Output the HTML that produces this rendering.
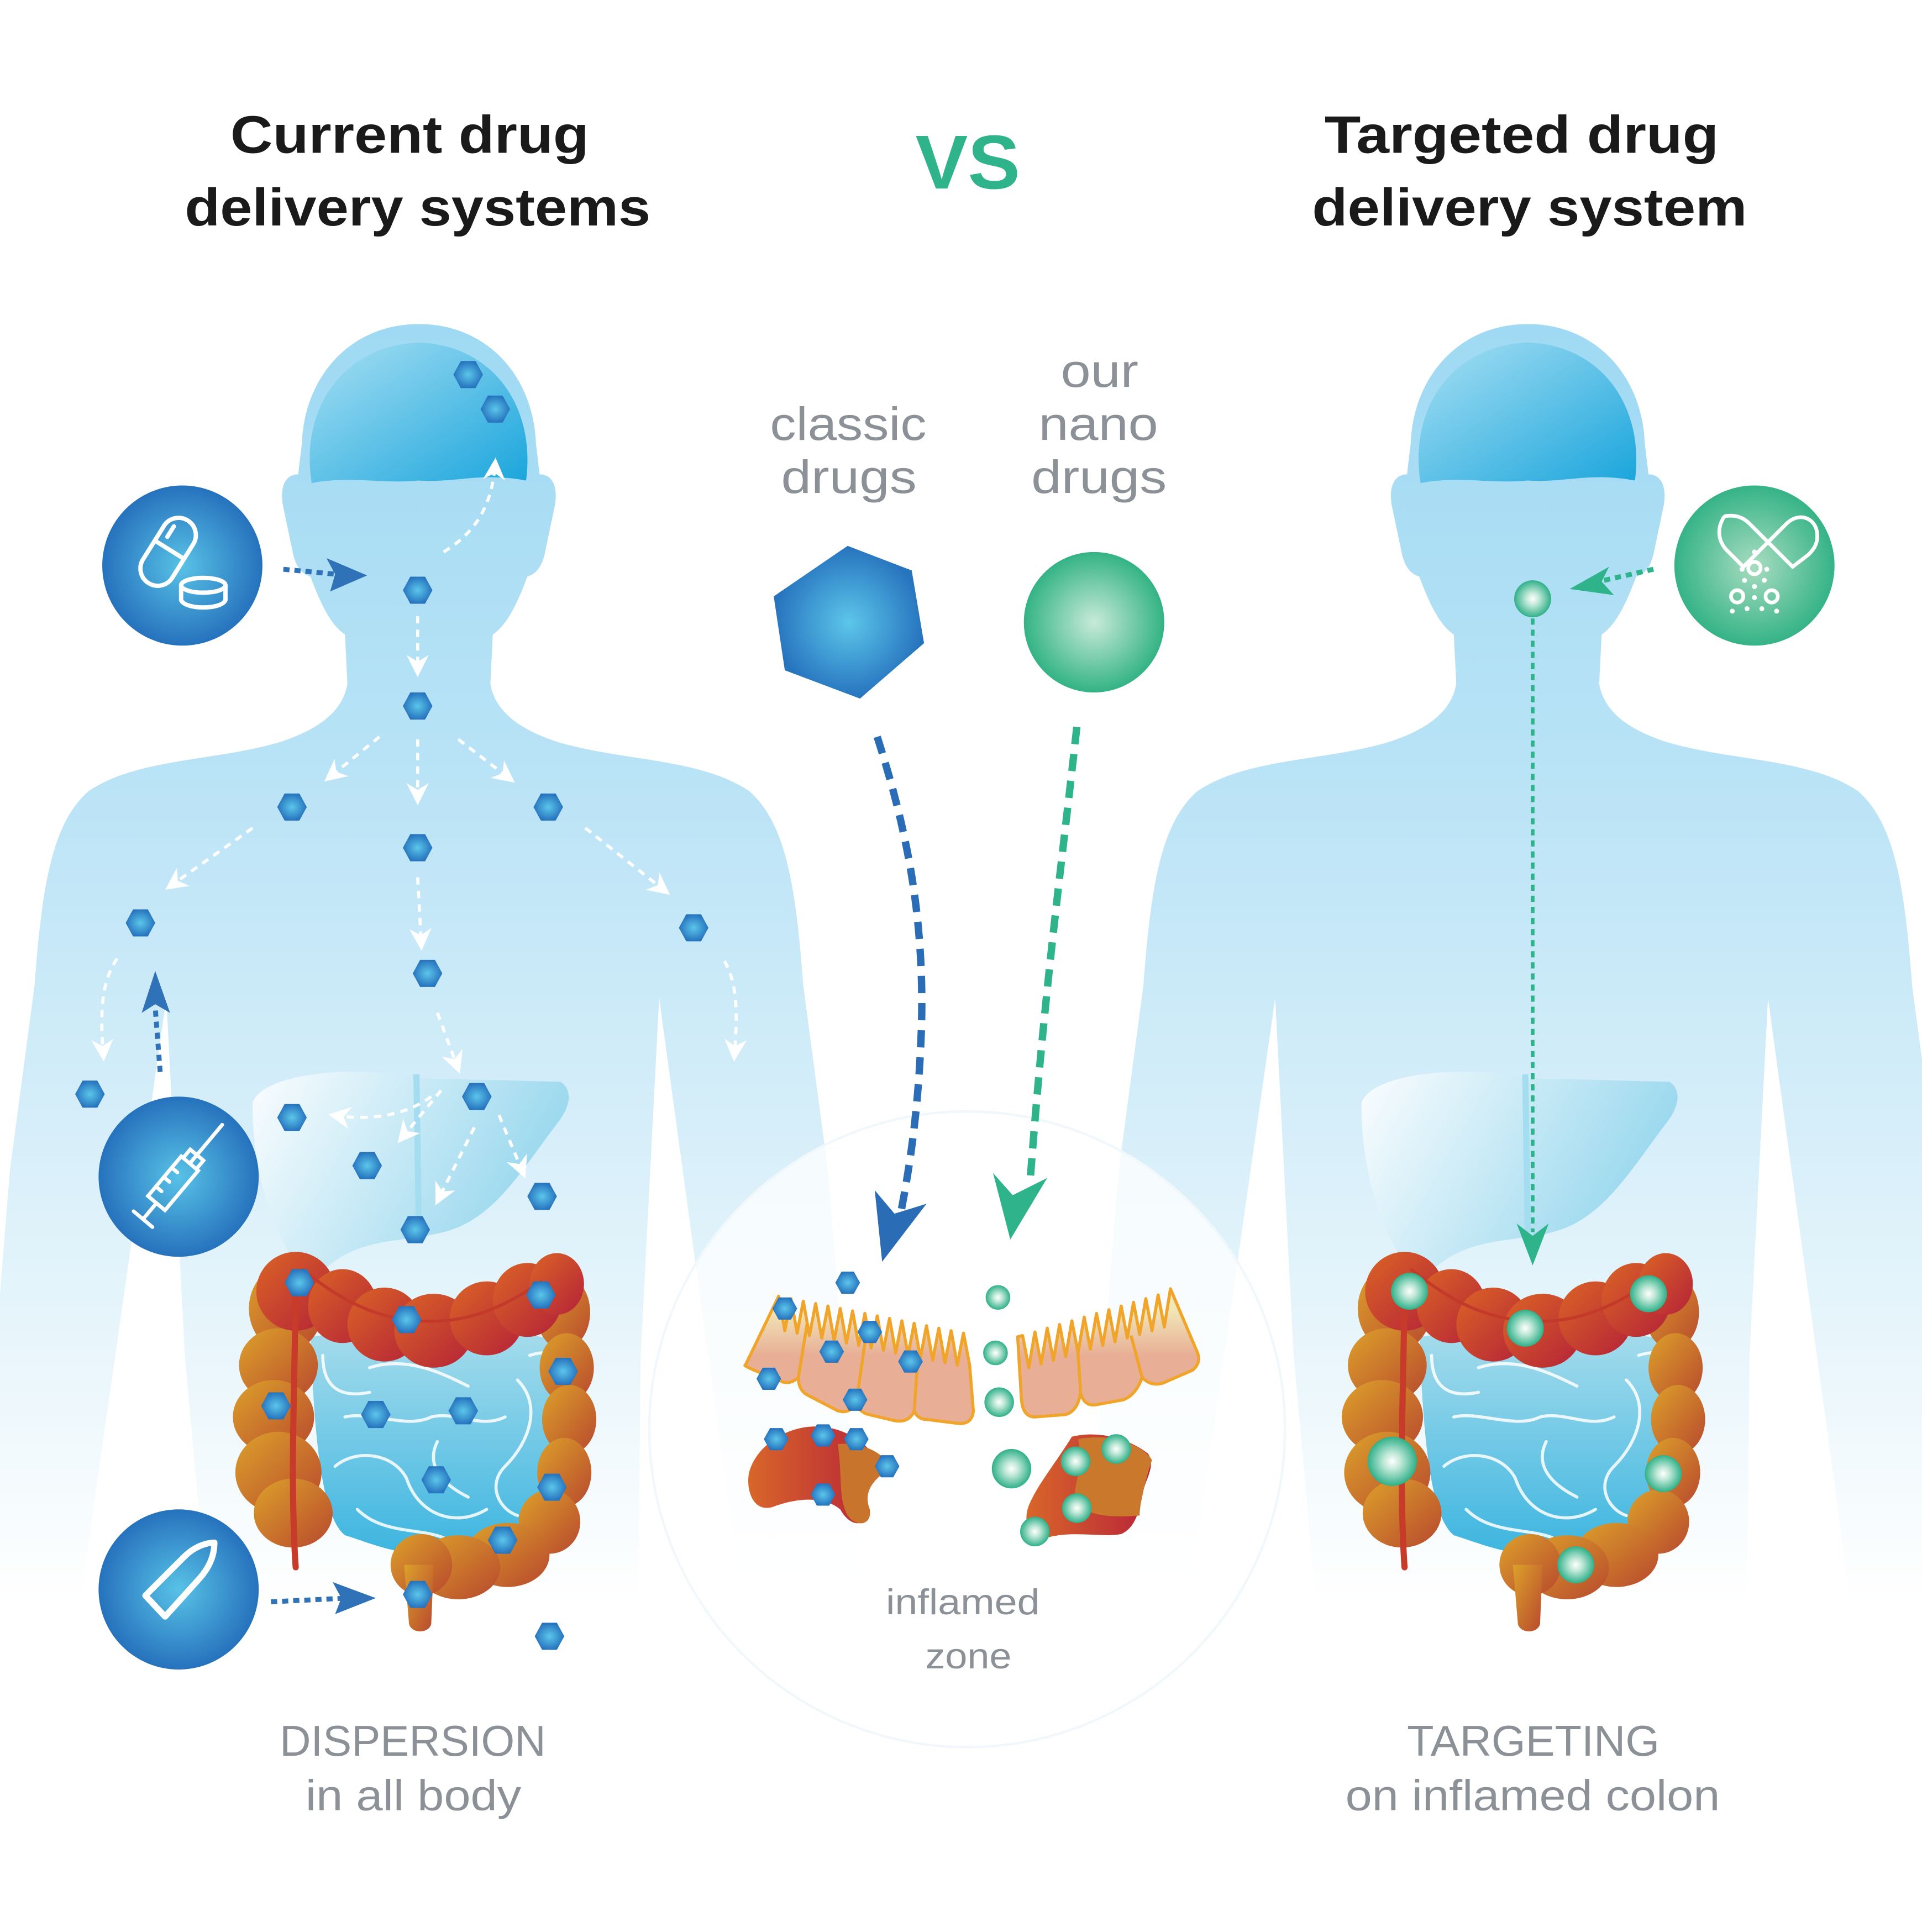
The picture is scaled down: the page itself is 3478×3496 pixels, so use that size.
<!DOCTYPE html>
<html><head><meta charset="utf-8"><style>
html,body{margin:0;padding:0;background:#fff;}
svg{display:block;}
text{font-family:"Liberation Sans",sans-serif;}
</style></head><body>
<svg width="3478" height="3496" viewBox="0 0 1560 1568" preserveAspectRatio="none" xmlns="http://www.w3.org/2000/svg">
<defs>
<linearGradient id="bodyg" x1="0" y1="260" x2="0" y2="1300" gradientUnits="userSpaceOnUse">
<stop offset="0" stop-color="#9fd9f3"/><stop offset="0.35" stop-color="#b9e3f6"/><stop offset="0.6" stop-color="#d3edf9"/><stop offset="0.85" stop-color="#eef8fc"/><stop offset="1" stop-color="#ffffff"/></linearGradient>
<linearGradient id="brain" x1="0" y1="0" x2="1" y2="1"><stop offset="0" stop-color="#a8e0f3"/><stop offset="1" stop-color="#1aa5dc"/></linearGradient>
<linearGradient id="liver" x1="0" y1="0" x2="1" y2="0.4"><stop offset="0" stop-color="#ffffff"/><stop offset="1" stop-color="#8dd3ec"/></linearGradient>
<linearGradient id="intest" x1="0" y1="0" x2="0" y2="1"><stop offset="0" stop-color="#a6dcec"/><stop offset="1" stop-color="#3cb5e0"/></linearGradient>
<linearGradient id="org" x1="0" y1="0" x2="1" y2="1"><stop offset="0" stop-color="#dca12a"/><stop offset="1" stop-color="#b8482e"/></linearGradient>
<linearGradient id="red" x1="0" y1="0" x2="1" y2="1"><stop offset="0" stop-color="#da6426"/><stop offset="1" stop-color="#b52238"/></linearGradient>
<linearGradient id="blob" x1="0" y1="0" x2="1" y2="0"><stop offset="0" stop-color="#d8662a"/><stop offset="1" stop-color="#b82438"/></linearGradient>
<linearGradient id="cell" x1="0" y1="1040" x2="0" y2="1150" gradientUnits="userSpaceOnUse"><stop offset="0.2" stop-color="#f1e8b8"/><stop offset="0.55" stop-color="#e8ae96"/><stop offset="1" stop-color="#e8ae96"/></linearGradient>
<radialGradient id="hg"><stop offset="0" stop-color="#5cc6ea"/><stop offset="1" stop-color="#2673be"/></radialGradient>
<radialGradient id="sg"><stop offset="0" stop-color="#ffffff"/><stop offset="0.35" stop-color="#bfe8d8"/><stop offset="1" stop-color="#2fb088"/></radialGradient>
<radialGradient id="bigsg"><stop offset="0" stop-color="#c8ead9"/><stop offset="1" stop-color="#33b385"/></radialGradient>
<radialGradient id="icb"><stop offset="0" stop-color="#58c2e6"/><stop offset="1" stop-color="#2672bd"/></radialGradient>
<radialGradient id="icg"><stop offset="0" stop-color="#a8dcc0"/><stop offset="1" stop-color="#35b387"/></radialGradient>
<marker id="mw" viewBox="0 0 10 10" refX="8" refY="5" markerWidth="18" markerHeight="18" markerUnits="userSpaceOnUse" orient="auto"><path d="M0,0 L10,5 L0,10 L3,5Z" fill="#fff"/></marker>
<polygon id="hx" points="-12,0 -6,-11 6,-11 12,0 6,11 -6,11" fill="url(#hg)"/>
<polygon id="hxs" points="-10,0 -5,-9 5,-9 10,0 5,9 -5,9" fill="url(#hg)"/>
<g id="body">
<path d="M0,263 C55,263 93,305 95,360 L98,385 C110,385 113,398 110,412 L102,450 C99,462 94,466 88,468 C78,495 70,508 60,515 L58,555 C62,578 82,592 112,602 C165,618 228,615 268,642 C298,668 306,720 312,800 L332,950 L360,1300 L-360,1300 L-332,950 L-312,800 C-306,720 -298,668 -268,642 C-228,615 -165,618 -112,602 C-82,592 -62,578 -58,555 L-60,515 C-70,508 -78,495 -88,468 C-94,466 -99,462 -102,450 L-110,412 C-113,398 -110,385 -98,385 L-95,360 C-93,305 -55,263 0,263Z" fill="url(#bodyg)"/>
<path d="M-205,810 L-275,1300 L-172,1300 L-190,1100Z" fill="#fff"/>
<path d="M195,810 L262,1300 L178,1300 L180,1100Z" fill="#fff"/>
<path d="M-87,392 C-97,330 -60,280 0,278 C60,280 95,330 87,390 C50,383 30,392 0,390 C-30,393 -55,386 -87,392Z" fill="url(#brain)"/>
</g>
<g id="colon">
<path d="M252,1085 C300,1078 420,1075 458,1090 C468,1150 462,1210 442,1242 C412,1262 382,1255 355,1262 C320,1262 300,1252 280,1246 C260,1230 255,1160 252,1085Z" fill="url(#intest)"/>
<g fill="none" stroke="#fff" stroke-width="2.5" opacity="0.85" stroke-linecap="round">
<path d="M262,1100 C262,1125 275,1135 300,1130"/><path d="M300,1110 C330,1100 360,1115 380,1125"/><path d="M280,1150 C300,1145 330,1160 350,1150 C370,1145 390,1160 410,1150"/><path d="M272,1190 C290,1175 320,1180 330,1200 C340,1230 370,1240 395,1225"/><path d="M355,1170 C345,1190 360,1205 380,1215"/><path d="M420,1120 C440,1140 430,1170 410,1190 C395,1205 405,1225 420,1230"/><path d="M290,1225 C310,1245 340,1240 360,1248"/><path d="M430,1100 C445,1095 455,1100 458,1102"/></g>
<g fill="url(#org)">
<ellipse cx="232" cy="1062" rx="30" ry="35"/><ellipse cx="226" cy="1108" rx="32" ry="30"/><ellipse cx="222" cy="1150" rx="33" ry="30"/><ellipse cx="226" cy="1195" rx="35" ry="33"/><ellipse cx="238" cy="1228" rx="32" ry="28"/>
<ellipse cx="457" cy="1065" rx="22" ry="30"/><ellipse cx="460" cy="1110" rx="22" ry="28"/><ellipse cx="462" cy="1152" rx="22" ry="28"/><ellipse cx="458" cy="1195" rx="22" ry="28"/><ellipse cx="446" cy="1235" rx="25" ry="26"/>
<ellipse cx="412" cy="1262" rx="34" ry="26"/><ellipse cx="372" cy="1272" rx="34" ry="26"/><ellipse cx="342" cy="1270" rx="25" ry="25"/>
<path d="M328,1270 L352,1270 L350,1318 C348,1326 334,1326 332,1318Z"/></g>
<g fill="url(#red)">
<ellipse cx="240" cy="1048" rx="32" ry="32"/><ellipse cx="278" cy="1060" rx="28" ry="30"/><ellipse cx="312" cy="1075" rx="30" ry="30"/><ellipse cx="352" cy="1080" rx="32" ry="30"/><ellipse cx="395" cy="1070" rx="30" ry="30"/><ellipse cx="428" cy="1055" rx="28" ry="30"/><ellipse cx="452" cy="1042" rx="22" ry="25"/></g>
<path d="M240,1040 C240,1100 235,1200 240,1272" fill="none" stroke="#c83a2a" stroke-width="5" stroke-linecap="round"/>
<path d="M245,1030 C270,1050 300,1070 340,1072 C380,1075 410,1060 440,1040" fill="none" stroke="#c43a2a" stroke-width="2.5"/>
</g>
</defs>

<use href="#body" transform="translate(340,0)"/>
<use href="#body" transform="translate(1240,0)"/>

<circle cx="785" cy="1160" r="258" fill="#fff" opacity="0.75"/>
<circle cx="785" cy="1160" r="258" fill="none" stroke="#f1f8fb" stroke-width="2"/>

<path d="M205,895 C215,868 300,865 340,875 L455,878 C466,885 462,900 452,912 C422,952 400,990 360,1000 C320,1010 285,1002 252,1042 C226,1010 205,962 205,895Z" fill="url(#liver)" opacity="0.9"/>
<path d="M1105,895 C1115,868 1200,865 1240,875 L1355,878 C1366,885 1362,900 1352,912 C1322,952 1300,990 1260,1000 C1220,1010 1185,1002 1152,1042 C1126,1010 1105,962 1105,895Z" fill="url(#liver)" opacity="0.9"/>
<path d="M338,872 L340,1000" stroke="#a5ddf0" stroke-width="5"/>
<path d="M1238,872 L1240,1000" stroke="#a5ddf0" stroke-width="5"/>

<use href="#colon"/>
<use href="#colon" transform="translate(900,0)"/>

<text x="187" y="124" font-size="43" font-weight="bold" fill="#1a1a1a" textLength="291" lengthAdjust="spacingAndGlyphs">Current drug</text>
<text x="150" y="183" font-size="43" font-weight="bold" fill="#1a1a1a" textLength="378" lengthAdjust="spacingAndGlyphs">delivery systems</text>
<text x="1075" y="124" font-size="43" font-weight="bold" fill="#1a1a1a" textLength="320" lengthAdjust="spacingAndGlyphs">Targeted drug</text>
<text x="1065" y="183" font-size="43" font-weight="bold" fill="#1a1a1a" textLength="353" lengthAdjust="spacingAndGlyphs">delivery system</text>
<text x="743" y="153" font-size="62" font-weight="bold" fill="#2eb38a" textLength="85" lengthAdjust="spacingAndGlyphs">VS</text>

<g fill="#8b9197" font-size="38">
<text x="625" y="357" textLength="127" lengthAdjust="spacingAndGlyphs">classic</text><text x="634" y="400" textLength="110" lengthAdjust="spacingAndGlyphs">drugs</text>
<text x="861" y="314" textLength="63" lengthAdjust="spacingAndGlyphs">our</text><text x="843" y="357" textLength="97" lengthAdjust="spacingAndGlyphs">nano</text><text x="837" y="400" textLength="110" lengthAdjust="spacingAndGlyphs">drugs</text>
<text x="227" y="1425" font-size="35" textLength="216" lengthAdjust="spacingAndGlyphs">DISPERSION</text><text x="248" y="1469" font-size="35" textLength="175" lengthAdjust="spacingAndGlyphs">in all body</text>
<text x="1142" y="1425" font-size="35" textLength="205" lengthAdjust="spacingAndGlyphs">TARGETING</text><text x="1092" y="1469" font-size="35" textLength="304" lengthAdjust="spacingAndGlyphs">on inflamed colon</text>
<text x="719" y="1310" font-size="29" textLength="125" lengthAdjust="spacingAndGlyphs">inflamed</text><text x="751" y="1354" font-size="29" textLength="70" lengthAdjust="spacingAndGlyphs">zone</text>
</g>

<polygon points="688,443 740,463 750,522 698,567 637,544 628,484" fill="url(#hg)"/>
<circle cx="888" cy="505" r="57" fill="url(#bigsg)"/>
<path d="M712,598 C735,670 750,740 748,830 C746,900 738,950 730,990" fill="none" stroke="#2a6db6" stroke-width="6" stroke-dasharray="14,8"/>
<polygon points="716,1024 710,966 726,985 752,977" fill="#2a6db6"/>
<path d="M874,590 C862,700 848,800 836,960" fill="none" stroke="#2eb38a" stroke-width="6" stroke-dasharray="14,8"/>
<polygon points="820,1006 806,952 822,970 850,956" fill="#2eb38a"/>

<path d="M605,1108 L632,1052 L637,1080 L642,1054 L647,1082 L652,1056 L657,1084 L662,1058 L667,1086 L672,1060 L677,1088 L682,1062 L687,1090 L692,1064 L697,1092 L702,1066 L707,1094 L712,1068 L717,1096 L722,1070 L727,1098 L732,1072 L737,1100 L742,1074 L747,1102 L752,1076 L757,1104 L762,1078 L767,1106 L772,1080 L777,1108 L782,1082 L787,1108 L790,1145 Q789,1157 776,1155 L752,1152 Q745,1152 742,1145 Q738,1155 726,1153 L705,1148 Q697,1146 695,1138 Q690,1148 680,1145 L655,1132 Q648,1128 648,1118 Q640,1125 632,1120 L612,1112 Q603,1108 605,1108Z" fill="url(#cell)" stroke="#f0a52a" stroke-width="2.5" stroke-linejoin="round"/>
<g stroke="#f0a52a" stroke-width="2.5"><path d="M655,1075 L648,1118"/><path d="M702,1090 L695,1138"/><path d="M745,1102 L742,1145"/></g>
<path d="M826,1085 L830,1084 L835,1110 L840,1081 L845,1107 L850,1078 L855,1104 L860,1075 L865,1101 L870,1072 L875,1098 L880,1069 L885,1095 L890,1066 L895,1092 L900,1063 L905,1089 L910,1060 L915,1086 L920,1057 L925,1083 L930,1054 L935,1080 L940,1051 L945,1077 L950,1046 L972,1098 Q975,1106 968,1112 L945,1122 Q935,1126 927,1118 Q922,1132 912,1136 L890,1140 Q880,1142 877,1130 Q875,1145 865,1148 L840,1150 Q830,1150 829,1135Z" fill="url(#cell)" stroke="#f0a52a" stroke-width="2.5" stroke-linejoin="round"/>
<g stroke="#f0a52a" stroke-width="2.5"><path d="M875,1098 L877,1130"/><path d="M918,1084 L927,1118"/></g>

<path d="M640,1162 C670,1150 700,1165 712,1185 C700,1200 690,1205 700,1225 C705,1240 690,1240 682,1225 C670,1215 650,1215 630,1222 C612,1230 605,1210 608,1195 C612,1180 625,1168 640,1162Z" fill="url(#blob)"/>
<path d="M680,1172 C700,1170 720,1180 722,1192 C710,1200 700,1210 706,1225 C708,1238 695,1240 688,1230 C680,1215 684,1200 680,1172Z" fill="#c9742c"/>
<path d="M870,1166 C895,1160 920,1170 932,1180 C938,1190 930,1200 928,1210 C925,1225 922,1240 910,1245 C895,1248 870,1242 850,1248 C835,1250 830,1235 835,1222 C842,1205 855,1190 870,1166Z" fill="url(#blob)"/>
<path d="M875,1168 C905,1162 930,1175 935,1185 C930,1200 925,1220 925,1230 C900,1232 880,1230 873,1218 C870,1205 880,1195 875,1168Z" fill="#c9782c"/>

<g>
<use href="#hx" x="380" y="304"/><use href="#hx" x="402" y="332"/><use href="#hx" x="339" y="479"/><use href="#hx" x="339" y="573"/><use href="#hx" x="237" y="655"/><use href="#hx" x="339" y="688"/><use href="#hx" x="445" y="655"/><use href="#hx" x="114" y="749"/><use href="#hx" x="563" y="753"/><use href="#hx" x="347" y="790"/><use href="#hx" x="73" y="888"/><use href="#hx" x="237" y="907"/><use href="#hx" x="387" y="890"/><use href="#hx" x="298" y="946"/><use href="#hx" x="440" y="971"/><use href="#hx" x="337" y="998"/><use href="#hx" x="243" y="1041"/><use href="#hx" x="330" y="1071"/><use href="#hx" x="439" y="1051"/><use href="#hx" x="457" y="1113"/><use href="#hx" x="224" y="1141"/><use href="#hx" x="305" y="1148"/><use href="#hx" x="376" y="1145"/><use href="#hx" x="354" y="1201"/><use href="#hx" x="448" y="1207"/><use href="#hx" x="408" y="1250"/><use href="#hx" x="339" y="1294"/><use href="#hx" x="446" y="1328"/>
<use href="#hxs" x="688" y="1041"/><use href="#hxs" x="637" y="1062"/><use href="#hxs" x="706" y="1081"/><use href="#hxs" x="675" y="1097"/><use href="#hxs" x="739" y="1105"/><use href="#hxs" x="624" y="1119"/><use href="#hxs" x="694" y="1136"/><use href="#hxs" x="630" y="1168"/><use href="#hxs" x="668" y="1165"/><use href="#hxs" x="695" y="1168"/><use href="#hxs" x="720" y="1190"/><use href="#hxs" x="668" y="1213"/>
</g>
<g fill="url(#sg)">
<circle cx="810" cy="1053" r="10"/><circle cx="808" cy="1098" r="10"/><circle cx="811" cy="1138" r="12"/><circle cx="821" cy="1192" r="16"/><circle cx="873" cy="1186" r="12"/><circle cx="906" cy="1176" r="12"/><circle cx="874" cy="1224" r="12"/><circle cx="840" cy="1243" r="12"/>
<circle cx="1144" cy="1048" r="15"/><circle cx="1338" cy="1050" r="15"/><circle cx="1238" cy="1078" r="15"/><circle cx="1130" cy="1186" r="20"/><circle cx="1350" cy="1196" r="15"/><circle cx="1279" cy="1270" r="15"/><circle cx="1244" cy="486" r="15"/>
</g>

<g fill="none" stroke="#fff" stroke-width="2.5" stroke-dasharray="6,5" marker-end="url(#mw)">
<path d="M360,448 C390,430 400,405 402,375"/>
<path d="M339,500 L339,546"/>
<path d="M308,598 L266,632"/>
<path d="M339,600 L339,650"/>
<path d="M372,600 L415,633"/>
<path d="M205,672 L137,720"/>
<path d="M339,712 L342,768"/>
<path d="M475,672 L541,724"/>
<path d="M95,778 C80,800 82,830 84,858"/>
<path d="M588,780 C600,800 598,830 596,858"/>
<path d="M355,822 L372,868"/>
<path d="M350,890 C330,905 300,910 270,905"/>
<path d="M358,885 L325,925"/>
<path d="M405,905 L425,953"/>
<path d="M385,915 L355,975"/>
</g>

<g fill="none" stroke="#2f72b8" stroke-width="4" stroke-dasharray="5,4">
<path d="M230,462 L272,466"/><path d="M130,870 L126,818"/><path d="M220,1300 L282,1297"/></g>
<polygon points="298,467 265,453 272,466 268,480" fill="#2f72b8"/>
<polygon points="126,788 115,822 126,815 138,822" fill="#2f72b8"/>
<polygon points="305,1297 270,1284 277,1297 272,1310" fill="#2f72b8"/>
<path d="M1342,462 L1302,471" fill="none" stroke="#2eb38a" stroke-width="4" stroke-dasharray="5,4"/>
<polygon points="1274,478 1306,460 1300,472 1310,483" fill="#2eb38a"/>
<path d="M1244,502 L1244,1000" fill="none" stroke="#2eb38a" stroke-width="3" stroke-dasharray="5,4"/>
<polygon points="1244,1027 1231,993 1244,1003 1257,993" fill="#2eb38a"/>

<circle cx="148" cy="459" r="65" fill="url(#icb)"/>
<g fill="none" stroke="#fff" stroke-width="3.5" stroke-linecap="round">
<g transform="rotate(32 137 447)"><rect x="123" y="418" width="28" height="60" rx="14"/><path d="M123,446 L151,446"/><path d="M130,438 L130,428"/></g>
<ellipse cx="165" cy="475" rx="18" ry="6"/><path d="M147,475 L147,487 C150,495 180,495 183,487 L183,475"/>
</g>
<circle cx="145" cy="955" r="65" fill="url(#icb)"/>
<g fill="none" stroke="#fff" stroke-width="3" stroke-linecap="round" transform="rotate(-50 145 955)">
<rect x="117" y="946" width="42" height="18"/><path d="M159,955 L200,955"/><path d="M117,955 L100,955"/><path d="M100,945 L100,965"/><path d="M127,946 L127,952"/><path d="M137,946 L137,952"/><path d="M147,946 L147,952"/><path d="M159,948 L168,948 L168,962 L159,962"/></g>
<circle cx="145" cy="1290" r="65" fill="url(#icb)"/>
<path d="M118,1295 L150,1263 C158,1255 168,1252 174,1252 C174,1262 170,1272 162,1281 L134,1312Z" fill="none" stroke="#fff" stroke-width="5" stroke-linejoin="round"/>
<circle cx="1424" cy="459" r="65" fill="url(#icg)"/>
<g fill="none" stroke="#fff" stroke-width="3" stroke-linecap="round">
<path d="M1399,420 C1393,430 1395,440 1402,447 L1415,460 L1450,425 C1460,415 1475,420 1475,435 C1475,442 1472,446 1468,450 L1455,460 L1420,425 C1413,418 1405,418 1400,419"/>
<circle cx="1424" cy="461" r="5"/><circle cx="1410" cy="484" r="5"/><circle cx="1438" cy="484" r="5"/></g>
<g fill="#fff"><circle cx="1424" cy="448" r="2"/><circle cx="1414" cy="462" r="2"/><circle cx="1434" cy="462" r="2"/><circle cx="1416" cy="471" r="2"/><circle cx="1432" cy="471" r="2"/><circle cx="1424" cy="476" r="2"/><circle cx="1424" cy="485" r="2"/><circle cx="1406" cy="496" r="2"/><circle cx="1418" cy="494" r="2"/><circle cx="1430" cy="494" r="2"/><circle cx="1442" cy="496" r="2"/></g>
</svg>
</body></html>
